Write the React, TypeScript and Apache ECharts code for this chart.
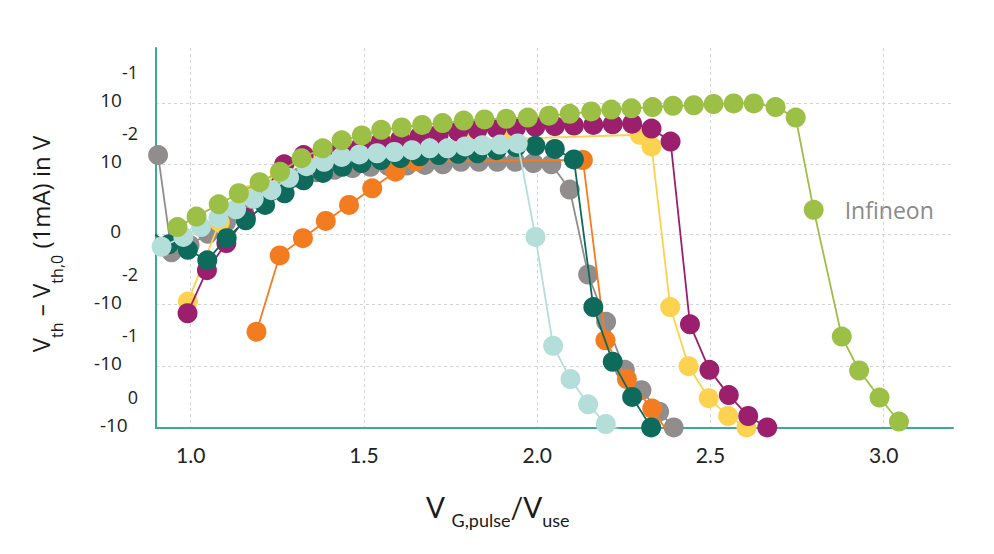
import React, { useEffect, useRef } from "react";
import * as echarts from "echarts";

// y values are in symmetric-log display units: 0 = 0 V, ±1.14 = ±10^-2 V, ±2.14 = ±10^-1 V, -3.14 = -10^0 V
const xTicks = [1.0, 1.5, 2.0, 2.5, 3.0];
const yTickValues = [-3.14, -2.14, -1.14, 0, 1.14, 2.14];
const yTickBase = ["-10", "-10", "-10", "0", "10", "10"];
const yTickExp = ["0", "-1", "-2", "", "-2", "-1"];

const greyX = [0.906, 0.945, 0.997, 1.05, 1.102, 1.154, 1.206, 1.258, 1.311, 1.362, 1.415, 1.467, 1.519, 1.571, 1.624, 1.676, 1.728, 1.78, 1.832, 1.885, 1.937, 1.989, 2.041, 2.094, 2.147, 2.199, 2.253, 2.301, 2.352, 2.394];
const greyY = [1.29, -0.29, -0.17, 0.01, 0.2, 0.36, 0.54, 0.72, 0.92, 1.01, 1.05, 1.08, 1.1, 1.11, 1.12, 1.13, 1.14, 1.18, 1.18, 1.18, 1.18, 1.16, 1.14, 0.73, -0.65, -1.42, -2.2, -2.53, -2.88, -3.135];

const orangeX = [1.19, 1.257, 1.324, 1.39, 1.457, 1.524, 1.591, 1.649, 2.132, 2.197, 2.259, 2.332, 2.397];
const orangeY = [-1.58, -0.34, -0.06, 0.22, 0.48, 0.75, 1.02, 1.19, 1.21, -1.72, -2.35, -2.83, -3.39];

const yellowX = [0.992, 1.084, 1.17, 1.257, 1.349, 1.459, 1.574, 1.69, 1.805, 1.906, 2.296, 2.33, 2.384, 2.437, 2.495, 2.551, 2.604];
const yellowY = [-1.09, 0.2, 0.64, 1.01, 1.24, 1.36, 1.44, 1.49, 1.53, 1.55, 1.62, 1.43, -1.18, -2.14, -2.66, -2.95, -3.135];

const magentaX = [0.991, 1.047, 1.103, 1.159, 1.214, 1.27, 1.326, 1.382, 1.437, 1.493, 1.549, 1.605, 1.66, 1.716, 1.772, 1.828, 1.883, 1.939, 1.995, 2.051, 2.106, 2.162, 2.218, 2.274, 2.33, 2.385, 2.441, 2.497, 2.553, 2.609, 2.664];
const magentaY = [-1.28, -0.58, -0.14, 0.27, 0.72, 1.14, 1.29, 1.39, 1.42, 1.45, 1.51, 1.55, 1.59, 1.63, 1.67, 1.7, 1.72, 1.74, 1.75, 1.76, 1.77, 1.78, 1.79, 1.8, 1.72, 1.51, -1.46, -2.2, -2.61, -2.95, -3.135];

const tealX = [0.881, 0.937, 0.992, 1.048, 1.104, 1.159, 1.215, 1.271, 1.326, 1.382, 1.438, 1.493, 1.549, 1.605, 1.661, 1.716, 1.772, 1.828, 1.883, 1.939, 1.995, 2.051, 2.106, 2.162, 2.218, 2.274, 2.329];
const tealY = [0.06, -0.16, -0.25, -0.42, -0.06, 0.23, 0.48, 0.67, 0.88, 1.0, 1.1, 1.16, 1.21, 1.24, 1.27, 1.29, 1.31, 1.32, 1.37, 1.42, 1.44, 1.39, 1.22, -1.18, -2.07, -2.64, -3.135];

const cyanX = [0.916, 0.979, 1.03, 1.08, 1.131, 1.182, 1.233, 1.284, 1.334, 1.385, 1.436, 1.487, 1.538, 1.588, 1.639, 1.69, 1.741, 1.792, 1.842, 1.893, 1.944, 1.995, 2.046, 2.096, 2.147, 2.198, 2.249];
const cyanY = [-0.2, -0.04, 0.12, 0.27, 0.41, 0.58, 0.72, 0.92, 1.11, 1.18, 1.26, 1.3, 1.32, 1.34, 1.37, 1.4, 1.4, 1.43, 1.45, 1.46, 1.48, -0.04, -1.81, -2.35, -2.76, -3.08, -3.2];

const greenX = [0.962, 1.017, 1.081, 1.139, 1.199, 1.258, 1.32, 1.381, 1.436, 1.494, 1.55, 1.609, 1.668, 1.727, 1.788, 1.848, 1.911, 1.973, 2.034, 2.094, 2.156, 2.214, 2.272, 2.333, 2.392, 2.452, 2.509, 2.567, 2.625, 2.688, 2.746, 2.798, 2.879, 2.929, 2.988, 3.044];
const greenY = [0.12, 0.29, 0.49, 0.67, 0.85, 1.02, 1.24, 1.4, 1.53, 1.61, 1.7, 1.74, 1.78, 1.81, 1.85, 1.87, 1.88, 1.9, 1.93, 1.96, 2.0, 2.03, 2.05, 2.07, 2.09, 2.1, 2.12, 2.13, 2.13, 2.07, 1.9, 0.4, -1.66, -2.21, -2.65, -3.04];
const greenLabel = "Infineon";
const greenLabelIndex = 31;

const COLORS = {
  grey: "#928d8d",
  orange: "#f47c20",
  yellow: "#fcd24e",
  magenta: "#9c1f6e",
  teal: "#0e6b5b",
  cyan: "#b4deda",
  green: "#9cbf45",
};

function makeSeries(name: string, xs: number[], ys: number[], color: string, z: number, extra?: (d: any, i: number) => any) {
  return {
    type: "line",
    name,
    z,
    data: xs.map((x, i) => {
      const d: any = { value: [x, ys[i]] };
      return extra ? extra(d, i) : d;
    }),
    symbol: "circle",
    symbolSize: 20,
    showSymbol: true,
    clip: true,
    lineStyle: { color, width: 1.8 },
    itemStyle: { color },
    emphasis: { disabled: true },
    silent: true,
  };
}

export default function App() {
  const ref = useRef<HTMLDivElement>(null);
  useEffect(() => {
    document.body.style.margin = "0";
    const chart = echarts.init(ref.current!, null, { renderer: "svg" });
    const gridLine = { show: true, lineStyle: { color: "#d4d4d4", width: 1, type: [3, 3] as any } };
    const axisLineStyle = { show: true, onZero: false, lineStyle: { color: "#3fa89b", width: 2 } };
    chart.setOption({
      animation: false,
      backgroundColor: "#ffffff",
      grid: { left: 156, right: 41, top: 48, bottom: 126.3, containLabel: false },
      xAxis: {
        type: "value",
        min: 0.9,
        max: 3.2,
        axisLine: axisLineStyle,
        axisTick: { show: false, customValues: xTicks },
        splitLine: gridLine,
        axisLabel: {
          customValues: xTicks,
          formatter: (v: number) => v.toFixed(1),
          fontFamily: "Lato",
          fontSize: 21,
          color: "#222222",
          margin: 16,
        },
      },
      yAxis: {
        type: "value",
        min: -3.14,
        max: 3.03,
        axisLine: axisLineStyle,
        axisTick: { show: false, customValues: yTickValues },
        splitLine: gridLine,
        axisLabel: {
          customValues: yTickValues,
          margin: 18,
          padding: [0, 0, 6, 0],
          formatter: (v: number) => {
            let idx = 0;
            for (let i = 0; i < yTickValues.length; i++) {
              if (Math.abs(yTickValues[i] - v) < 1e-6) idx = i;
            }
            const b = yTickBase[idx];
            const e = yTickExp[idx];
            return e ? `{base|${b}}{sup|${e}}` : `{base|${b}}{gap|}`;
          },
          rich: {
            base: { fontFamily: "Open Sans", fontSize: 19, lineHeight: 74, color: "#222222" },
            sup: { fontFamily: "Open Sans", fontSize: 18, lineHeight: 18, verticalAlign: "top", color: "#222222" },
            gap: { width: 17, lineHeight: 74 },
          },
        },
      },
      graphic: [
        {
          type: "text",
          x: 40,
          y: 244,
          rotation: Math.PI / 2,
          style: {
            text: "{m|V}{s|th}{m| – V}{s|th,0}{m| (1mA) in V}",
            align: "center",
            verticalAlign: "middle",
            rich: {
              m: { fontFamily: "Open Sans", fontSize: 24, lineHeight: 50, fill: "#1a1a1a" },
              s: { fontFamily: "Open Sans", fontSize: 16, lineHeight: 16, verticalAlign: "bottom", fill: "#1a1a1a" },
            },
          },
        },
        {
          type: "text",
          x: 497.5,
          y: 507,
          style: {
            text: "{m|V }{s|G,pulse}{m|/V}{s|use}",
            align: "center",
            verticalAlign: "middle",
            rich: {
              m: { fontFamily: "Lato", fontSize: 28, lineHeight: 44, fill: "#1a1a1a" },
              s: { fontFamily: "Lato", fontSize: 18, lineHeight: 18, verticalAlign: "bottom", fill: "#1a1a1a" },
            },
          },
        },
      ],
      series: [
        makeSeries("grey", greyX, greyY, COLORS.grey, 2),
        makeSeries("orange", orangeX, orangeY, COLORS.orange, 3),
        makeSeries("yellow", yellowX, yellowY, COLORS.yellow, 4),
        makeSeries("magenta", magentaX, magentaY, COLORS.magenta, 5),
        makeSeries("teal", tealX, tealY, COLORS.teal, 6),
        makeSeries("cyan", cyanX, cyanY, COLORS.cyan, 7),
        makeSeries("Infineon", greenX, greenY, COLORS.green, 8, (d, i) => {
          if (i === greenLabelIndex) {
            d.label = {
              show: true,
              position: "right",
              distance: 21,
              formatter: greenLabel,
              fontFamily: "Open Sans",
              fontSize: 23,
              color: "#8a8a8a",
            };
          }
          return d;
        }),
      ],
    });
    return () => chart.dispose();
  }, []);
  return <div ref={ref} style={{ width: 994, height: 554 }} />;
}
